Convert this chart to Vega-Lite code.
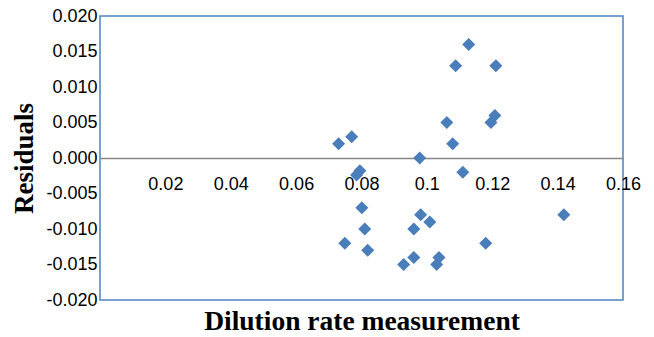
{
  "$schema": "https://vega.github.io/schema/vega-lite/v6.json",
  "width": 523,
  "height": 284,
  "autosize": {"type": "none"},
  "padding": {"left": 100, "top": 16, "right": 31, "bottom": 37},
  "background": "white",
  "config": {
    "view": {"stroke": "#4f81bd", "strokeWidth": 1.5},
    "font": "Liberation Sans"
  },
  "data": {
    "values": [
      {"rate": 0.0730, "residual": 0.002},
      {"rate": 0.0770, "residual": 0.003},
      {"rate": 0.0795, "residual": -0.0018},
      {"rate": 0.0785, "residual": -0.0024},
      {"rate": 0.0801, "residual": -0.007},
      {"rate": 0.0810, "residual": -0.010},
      {"rate": 0.0749, "residual": -0.012},
      {"rate": 0.0819, "residual": -0.013},
      {"rate": 0.0978, "residual": 0.000},
      {"rate": 0.0981, "residual": -0.008},
      {"rate": 0.1009, "residual": -0.009},
      {"rate": 0.0960, "residual": -0.010},
      {"rate": 0.0960, "residual": -0.014},
      {"rate": 0.0929, "residual": -0.015},
      {"rate": 0.1037, "residual": -0.014},
      {"rate": 0.1030, "residual": -0.015},
      {"rate": 0.1110, "residual": -0.002},
      {"rate": 0.1180, "residual": -0.012},
      {"rate": 0.1419, "residual": -0.008},
      {"rate": 0.1128, "residual": 0.016},
      {"rate": 0.1088, "residual": 0.013},
      {"rate": 0.1211, "residual": 0.013},
      {"rate": 0.1061, "residual": 0.005},
      {"rate": 0.1079, "residual": 0.002},
      {"rate": 0.1196, "residual": 0.005},
      {"rate": 0.1208, "residual": 0.006}
    ]
  },
  "mark": {"type": "point", "shape": "diamond", "filled": true, "size": 170, "color": "#4a7ebb", "opacity": 1},
  "encoding": {
    "x": {
      "field": "rate",
      "type": "quantitative",
      "scale": {"domain": [0, 0.16], "nice": false, "zero": false},
      "axis": {
        "title": "Dilution rate measurement",
        "values": [0.02, 0.04, 0.06, 0.08, 0.1, 0.12, 0.14, 0.16],
        "labelExpr": "datum.value == 0.1 ? '0.1' : format(datum.value, '.2f')",
        "offset": -142,
        "grid": false,
        "ticks": false,
        "domainColor": "#868686",
        "domainWidth": 1.5,
        "labelFont": "Liberation Sans",
        "labelFontSize": 18,
        "labelColor": "black",
        "labelPadding": 17,
        "labelFlush": false,
        "titleFont": "Liberation Serif",
        "titleFontSize": 27.5,
        "titleFontWeight": "bold",
        "titleColor": "black",
        "titleBaseline": "alphabetic",
        "titleY": 171
      }
    },
    "y": {
      "field": "residual",
      "type": "quantitative",
      "scale": {"domain": [-0.02, 0.02], "nice": false, "zero": false},
      "axis": {
        "title": "Residuals",
        "values": [-0.02, -0.015, -0.01, -0.005, 0, 0.005, 0.01, 0.015, 0.02],
        "labelExpr": "replace(format(datum.value, '.3f'), '\u2212', '-')",
        "grid": false,
        "ticks": false,
        "domain": false,
        "labelFont": "Liberation Sans",
        "labelFontSize": 18,
        "labelColor": "black",
        "labelPadding": 3,
        "labelFlush": false,
        "titleFont": "Liberation Serif",
        "titleFontSize": 27,
        "titleFontWeight": "bold",
        "titleColor": "black",
        "titleAngle": -90,
        "titleAlign": "center",
        "titleBaseline": "alphabetic",
        "titleX": -68,
        "titleY": 142
      }
    }
  }
}
